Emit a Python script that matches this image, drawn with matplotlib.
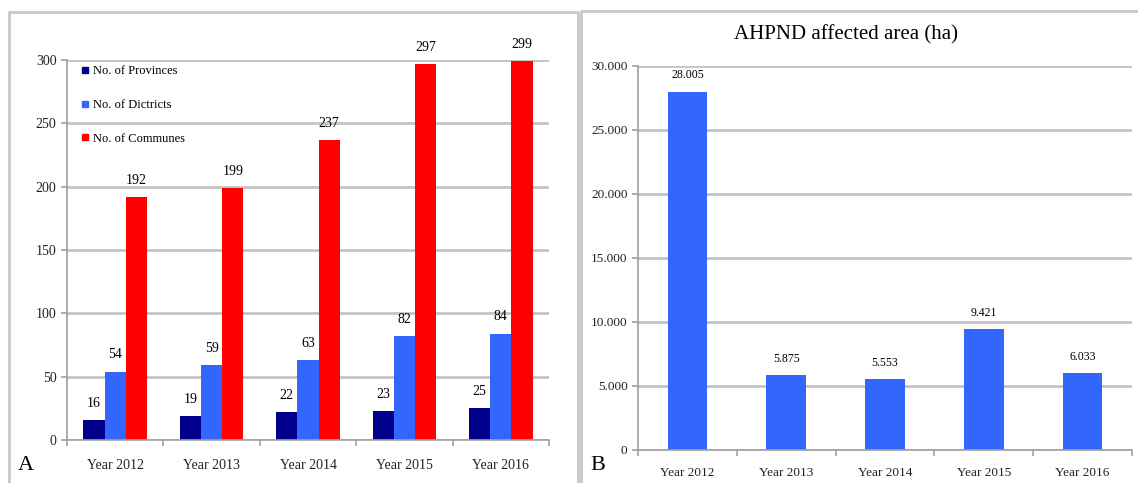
import matplotlib
matplotlib.use("Agg")
import matplotlib.pyplot as plt
from matplotlib.lines import Line2D
import numpy as np

years = ["Year 2012", "Year 2013", "Year 2014", "Year 2015", "Year 2016"]
provinces = [16, 19, 22, 23, 25]
districts = [54, 59, 63, 82, 84]
communes = [192, 199, 237, 297, 299]
area = [28005, 5875, 5553, 9421, 6033]
area_labels = ["28.005", "5.875", "5.553", "9.421", "6.033"]
area_ticks = [0, 5000, 10000, 15000, 20000, 25000, 30000]
area_tick_labels = ["0", "5.000", "10.000", "15.000", "20.000", "25.000", "30.000"]

plt.rcParams["font.family"] = ["Liberation Serif", "DejaVu Serif"]

c_prov = "#00008B"
c_dist = "#3366FF"
c_comm = "#FF0000"
grid_c = "#c4c4c4"

W, H = 1138, 483
fig = plt.figure(figsize=(W / 100, H / 100), dpi=100)


def style_axes(ax):
    for s in ["top", "right"]:
        ax.spines[s].set_visible(False)
    for s in ["left", "bottom"]:
        ax.spines[s].set_color("#a0a0a0")
        ax.spines[s].set_linewidth(1.2)
    ax.tick_params(axis="both", colors="#a0a0a0", labelcolor="#222222", length=4, width=1.2)
    ax.yaxis.grid(True, color=grid_c, linewidth=2)
    ax.set_axisbelow(True)


# panel A
axA = fig.add_axes([67 / W, 1 - 440 / H, 482 / W, 380 / H])
x = np.arange(len(years))
w = 0.22
bp = axA.bar(x - w, provinces, w, color=c_prov)
bd = axA.bar(x, districts, w, color=c_dist)
bc = axA.bar(x + w, communes, w, color=c_comm)
for bars, vals in [(bp, provinces), (bd, districts), (bc, communes)]:
    for b, v in zip(bars, vals):
        axA.text(b.get_x() + b.get_width() / 2, v + 8, str(v), ha="center", va="bottom", fontsize=10)
axA.set_xlim(-0.5, 4.5)
axA.set_ylim(0, 300)
axA.set_yticks([0, 50, 100, 150, 200, 250, 300])
axA.set_xticks(np.arange(-0.5, 5, 1), labels=[""] * 6)
axA.set_xticks(x, labels=years, minor=True)
axA.tick_params(axis="y", labelsize=10)
style_axes(axA)
axA.tick_params(axis="x", which="minor", length=0, labelsize=10, labelcolor="#222222", pad=14)
handles = [Line2D([], [], marker="s", linestyle="none", color=c, markersize=5)
           for c in (c_prov, c_dist, c_comm)]
axA.legend(handles, ["No. of Provinces", "No. of Dictricts", "No. of Communes"],
           loc="upper left", bbox_to_anchor=(0.02, 1.0), frameon=False, fontsize=9,
           handlelength=0.6, handletextpad=0.3, labelspacing=1.75, borderaxespad=0)

# panel B
axB = fig.add_axes([638 / W, 1 - 450 / H, 494 / W, 384 / H])
bb = axB.bar(x, area, 0.4, color=c_dist)
for b, v, lab in zip(bb, area, area_labels):
    axB.text(b.get_x() + b.get_width() / 2, v + 800, lab, ha="center", va="bottom", fontsize=8.5)
axB.set_xlim(-0.5, 4.5)
axB.set_ylim(0, 30000)
axB.set_yticks(area_ticks, labels=area_tick_labels)
axB.set_xticks(np.arange(-0.5, 5, 1), labels=[""] * 6)
axB.set_xticks(x, labels=years, minor=True)
axB.tick_params(axis="y", labelsize=9.5)
style_axes(axB)
axB.tick_params(axis="x", which="minor", length=0, labelsize=9.5, labelcolor="#222222", pad=12)

fig.text(846 / W, 1 - 35 / H, "AHPND affected area (ha)", ha="center", va="center", fontsize=15)
fig.text(18 / W, 1 - 466 / H, "A", ha="left", va="center", fontsize=16)
fig.text(590 / W, 1 - 466 / H, "B", ha="left", va="center", fontsize=16)

# panel frames
fc = "#c8c8c8"
fig.add_artist(Line2D([9 / W, 9 / W, 578 / W, 578 / W], [0, 1 - 12 / H, 1 - 12 / H, 0],
                      color=fc, linewidth=2, transform=fig.transFigure))
fig.add_artist(Line2D([581 / W, 581 / W, 1.0], [0, 1 - 11 / H, 1 - 11 / H],
                      color=fc, linewidth=2, transform=fig.transFigure))

fig.savefig("out.png", dpi=100)
